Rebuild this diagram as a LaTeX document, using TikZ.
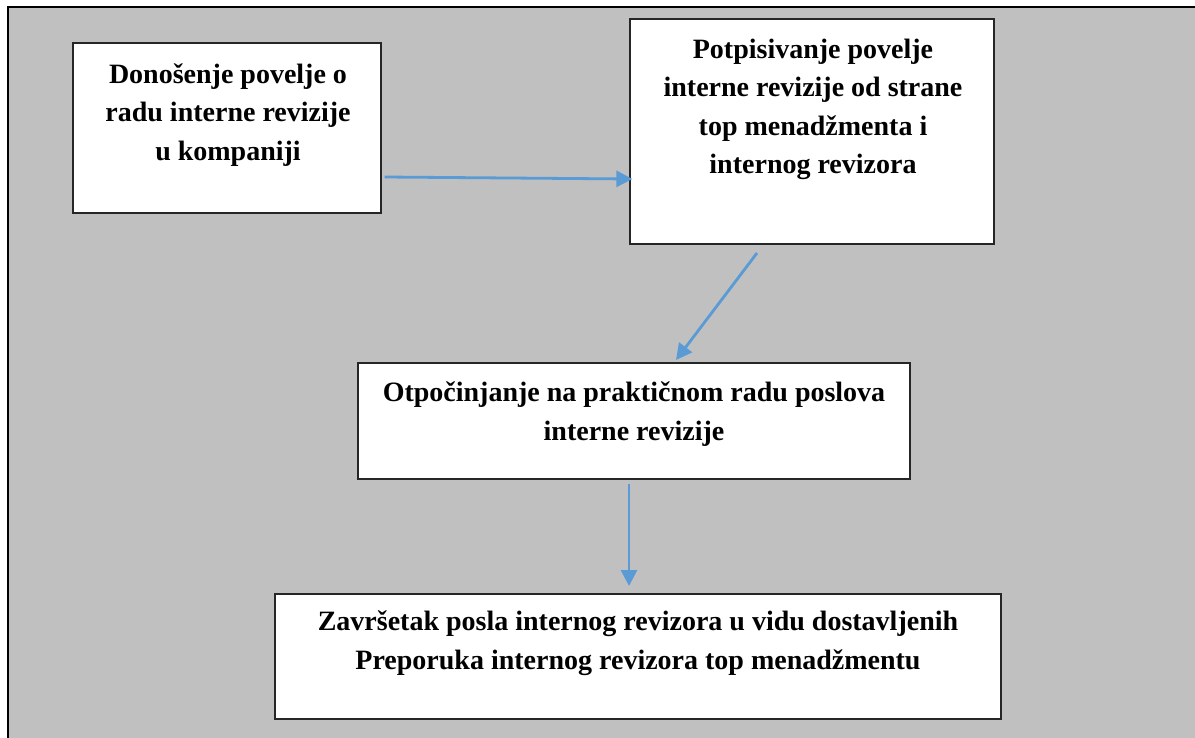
\documentclass[tikz,border=0pt]{standalone}
\usepackage{fontspec}
\setmainfont{Liberation Serif}
\usetikzlibrary{arrows.meta}
\definecolor{panelgray}{HTML}{C0C0C0}
\definecolor{flowblue}{HTML}{5B9BD5}
\begin{document}
\begin{tikzpicture}[x=1bp,y=-1bp,
  stepbox/.style={draw=black!85,line width=1.2bp,fill=white,inner sep=0pt},
  steptext/.style={align=center,font=\fontsize{28bp}{38.5bp}\selectfont\bfseries,inner sep=0pt},
  flow/.style={draw=flowblue,line width=2.8bp,-{Triangle[length=16bp,width=16bp]}}]
  \useasboundingbox (0,0) rectangle (1195,738);
  % panel background and its top/left rule
  \fill[panelgray] (8,7) rectangle (1205,748);
  \draw[line width=2.6bp] (8,748) -- (8,7) -- (1205,7);
  % boxes
  \node[stepbox,minimum width=308bp,minimum height=170bp] (b1) at (227,128) {};
  \node[stepbox,minimum width=364bp,minimum height=225bp] (b2) at (812,131.5) {};
  \node[stepbox,minimum width=552bp,minimum height=116bp] (b3) at (634,421) {};
  \node[stepbox,minimum width=726bp,minimum height=125bp] (b4) at (638,656.5) {};
  % texts
  \node[steptext] (t1) at (228,115) {Donošenje povelje o\\radu interne revizije\\u kompaniji};
  \node[steptext] (t2) at (813,109.5) {Potpisivanje povelje\\interne revizije od strane\\top menadžmenta i\\internog revizora};
  \node[steptext] (t3) at (634,414) {Otpočinjanje na praktičnom radu poslova\\interne revizije};
  \node[steptext] (t4) at (638,643) {Završetak posla internog revizora u vidu dostavljenih\\Preporuka internog revizora top menadžmentu};
  % connectors
  \coordinate (a1s) at ([xshift=3bp]b1.east |- 0,177);
  \coordinate (a1e) at ([xshift=3bp]b2.west |- 0,179);
  \draw[flow] (a1s) -- (a1e);
  \coordinate (a2s) at (757,253);
  \coordinate (a2e) at (676,360);
  \draw[flow] (a2s) -- (a2e);
  \coordinate (a3s) at (629,484);
  \coordinate (a3e) at (629,586);
  \draw[flow] (a3s) -- (a3e);
\end{tikzpicture}
\end{document}
